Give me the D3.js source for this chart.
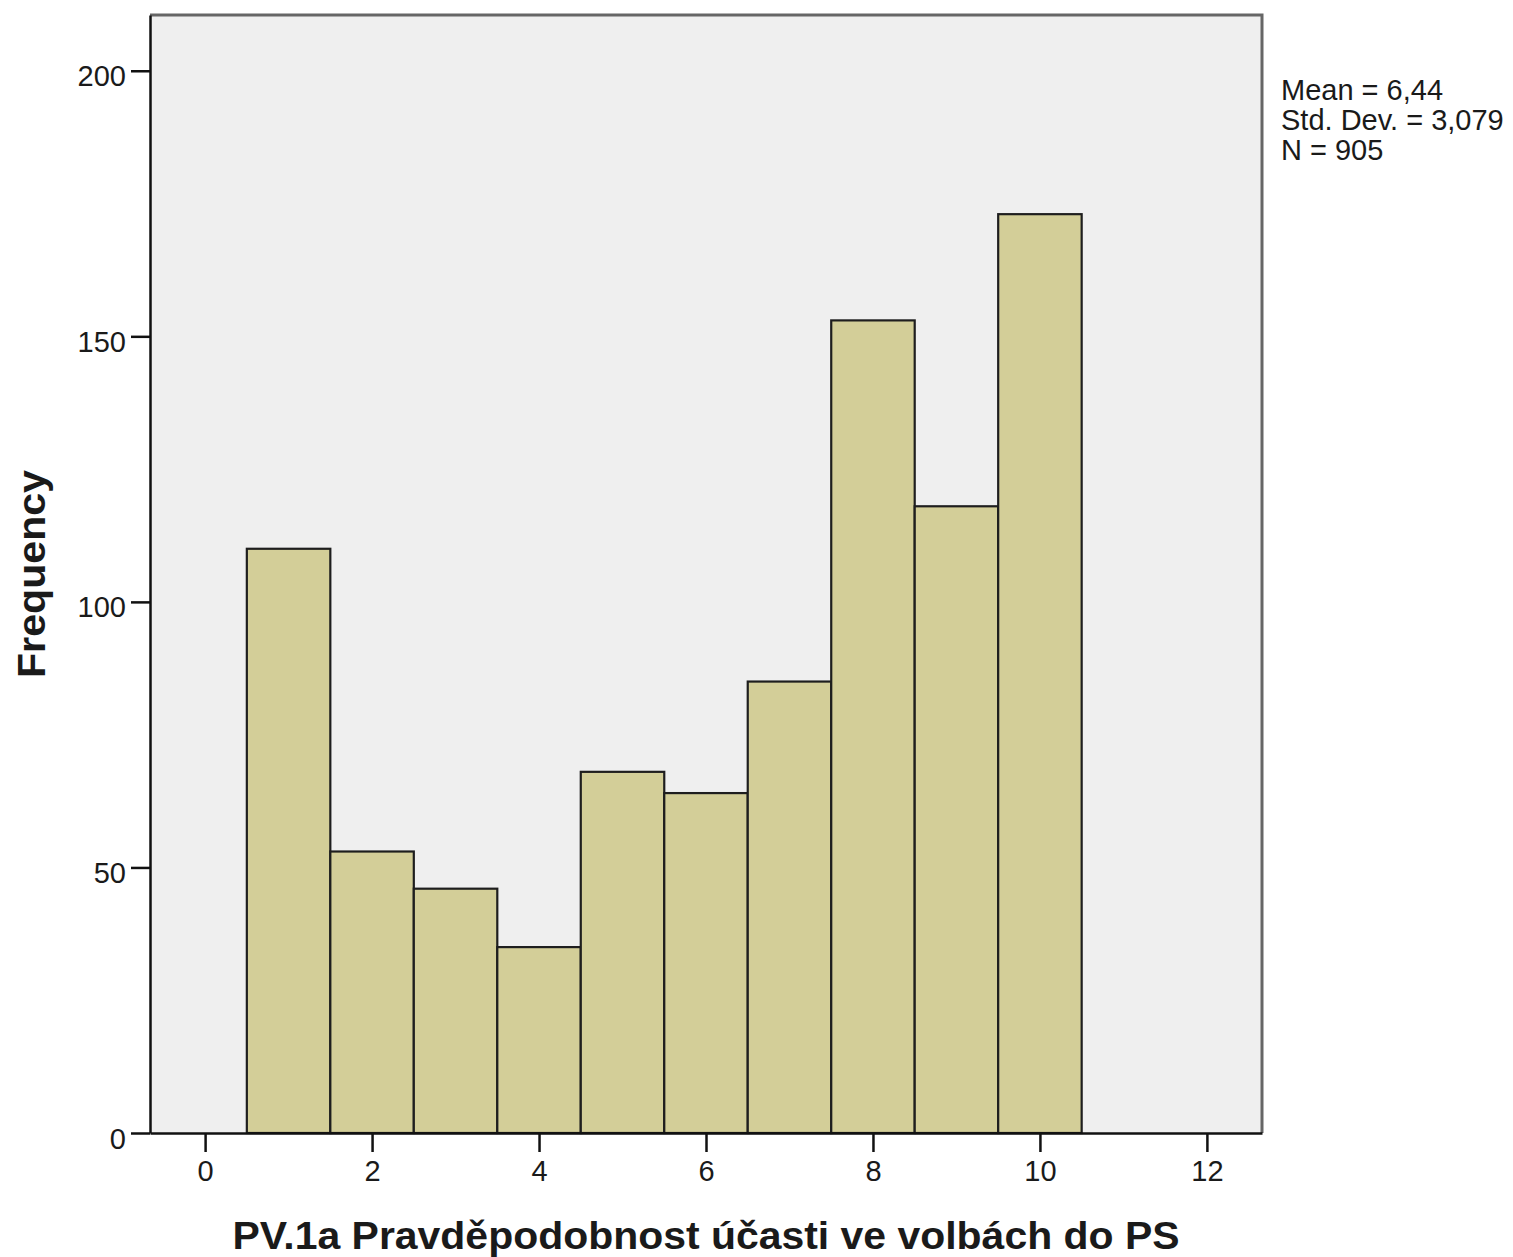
<!DOCTYPE html>
<html>
<head>
<meta charset="utf-8">
<script src="https://cdn.jsdelivr.net/npm/d3@7"></script>
<style>
  body { margin: 0; background: #fff; }
  svg text { font-family: "Liberation Sans", Arial, sans-serif; fill: #1a1a1a; }
</style>
</head>
<body>
<div id="chart"></div>
<script>
// histogram data (one bar per score 1..10)
var scores = [1, 2, 3, 4, 5, 6, 7, 8, 9, 10];
var counts = [110, 53, 46, 35, 68, 64, 85, 153, 118, 173];
var xTicks = [0, 2, 4, 6, 8, 10, 12];
var yTicks = [0, 50, 100, 150, 200];
var statLines = ["Mean = 6,44", "Std. Dev. = 3,079", "N = 905"];
var xTitle = "PV.1a Pravděpodobnost účasti ve volbách do PS";
var yTitle = "Frequency";

var w = 1513, h = 1257;
var plotL = 150, plotR = 1262, plotT = 15, plotB = 1133;

var svg = d3.select("#chart")
            .append("svg")
            .attr("width", w)
            .attr("height", h);

var x = d3.scaleLinear().domain([-0.66, 12.66]).range([plotL, plotR]);
var y = d3.scaleLinear().domain([0, 210.5]).range([plotB, plotT]);

// plot background
svg.append("rect")
  .attr("x", plotL).attr("y", plotT)
  .attr("width", plotR - plotL).attr("height", plotB - plotT)
  .attr("fill", "#efefef");

// bars
svg.selectAll("rect.bar")
  .data(scores)
  .enter()
  .append("rect")
  .attr("class", "bar")
  .attr("x", function(d) { return x(d - 0.5); })
  .attr("width", function(d) { return x(d + 0.5) - x(d - 0.5); })
  .attr("y", function(d, i) { return y(counts[i]); })
  .attr("height", function(d, i) { return plotB - y(counts[i]); })
  .attr("fill", "#d3ce98")
  .attr("stroke", "#1e1e1e")
  .attr("stroke-width", 2.2);

// frame top + right (grey)
svg.append("path")
  .attr("d", "M" + plotL + "," + plotT + "H" + plotR + "V" + plotB)
  .attr("fill", "none")
  .attr("stroke", "#666")
  .attr("stroke-width", 3);

// axes
var xAxis = svg.append("g")
  .attr("transform", "translate(0," + plotB + ")")
  .call(d3.axisBottom(x).tickValues(xTicks).tickSize(19).tickSizeOuter(0).tickPadding(8));

var yAxis = svg.append("g")
  .attr("transform", "translate(" + plotL + ",0)")
  .call(d3.axisLeft(y).tickValues(yTicks).tickSize(19).tickSizeOuter(0).tickPadding(5));

[xAxis, yAxis].forEach(function(a) {
  a.select(".domain").attr("stroke", "#111").attr("stroke-width", 2.5);
  a.selectAll(".tick line").attr("stroke", "#111").attr("stroke-width", 2.5);
  a.selectAll(".tick text")
    .attr("font-family", "'Liberation Sans', Arial, sans-serif")
    .attr("font-size", "29px")
    .attr("fill", "#1a1a1a");
});
yAxis.selectAll(".tick text").attr("dy", "0.52em");

// axis titles
svg.append("text")
  .attr("x", (plotL + plotR) / 2)
  .attr("y", 1249)
  .attr("text-anchor", "middle")
  .attr("font-size", "38px")
  .attr("font-weight", "bold")
  .attr("textLength", 947)
  .attr("lengthAdjust", "spacingAndGlyphs")
  .text(xTitle);

svg.append("text")
  .attr("transform", "translate(45,574) rotate(-90)")
  .attr("text-anchor", "middle")
  .attr("font-size", "38px")
  .attr("font-weight", "bold")
  .attr("textLength", 208)
  .attr("lengthAdjust", "spacingAndGlyphs")
  .text(yTitle);

// stats box
svg.selectAll("text.stat")
  .data(statLines)
  .enter()
  .append("text")
  .attr("class", "stat")
  .attr("x", 1281)
  .attr("y", function(d, i) { return 100 + i * 30; })
  .attr("font-size", "29px")
  .text(function(d) { return d; });
</script>
</body>
</html>
